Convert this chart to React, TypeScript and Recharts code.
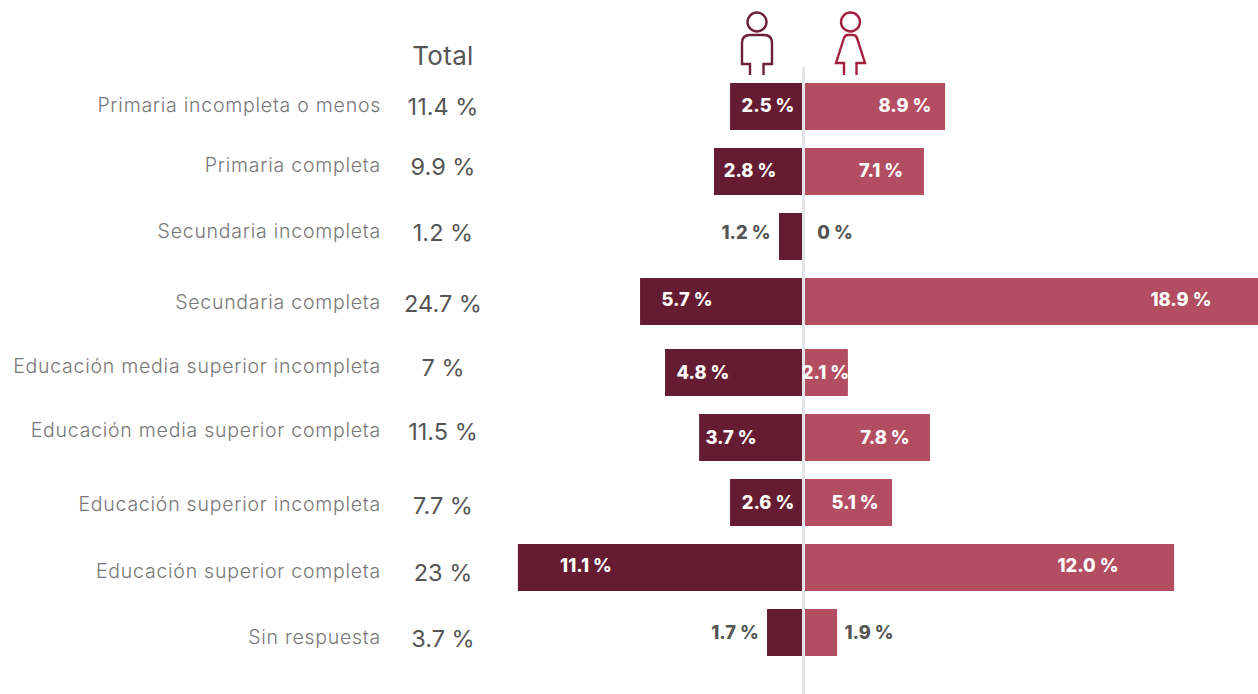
import React from "react";
import { BarChart, Bar, XAxis, YAxis, ReferenceLine, LabelList } from "recharts";

// Row captions and the printed totals
const categories = [
  "Primaria incompleta o menos",
  "Primaria completa",
  "Secundaria incompleta",
  "Secundaria completa",
  "Educación media superior incompleta",
  "Educación media superior completa",
  "Educación superior incompleta",
  "Educación superior completa",
  "Sin respuesta",
];
const totals = ["11.4 %", "9.9 %", "1.2 %", "24.7 %", "7 %", "11.5 %", "7.7 %", "23 %", "3.7 %"];

// Printed labels
const menLabels = ["2.5 %", "2.8 %", "1.2 %", "5.7 %", "4.8 %", "3.7 %", "2.6 %", "11.1 %", "1.7 %"];
const womenLabels = ["8.9 %", "7.1 %", "0 %", "18.9 %", "2.1 %", "7.8 %", "5.1 %", "12.0 %", "1.9 %"];

// Bar lengths as drawn in the picture (axis units)
const menBars = [3.06, 3.73, 1.02, 6.81, 5.77, 4.35, 3.06, 11.9, 1.52];
const womenBars = [5.9, 5.02, 0, 18.94, 1.85, 5.27, 3.69, 15.44, 1.4];

// Hand placement of the labels in the original graphic
const captionNudge = [-1.5, -6.5, -5.5, 0.5, -6.5, -7.5, 1.5, 3.5, 4.5];
const labelNudgeY = [-1.5, -1.5, -4.5, -2.5, -0.5, -0.5, -1, -2.5, -0.5];
const menLabelX = [-35.5, -53.5, -57.5, -116.5, -100.5, -72.5, -35.5, -217.5, -68.5];
const womenLabelX = [101.5, 77.5, 31.5, 377.5, 22, 81.5, 51.5, 284.5, 65.5];

const rows = categories.map((category, i) => ({
  category,
  total: totals[i],
  men: -menBars[i],
  women: womenBars[i],
  row: i,
}));

const FONT = "Inter, sans-serif";
const MEN = "#651c32";
const WOMEN = "#b34e62";
const W = 1258;
const AXIS_W = 500;
const ZERO = 803.5;
const DOMAIN: [number, number] = [-(ZERO - AXIS_W) / 24, (W - ZERO) / 24];
const OUTSIDE = [2, 8];

function Tick({ y, payload, offset }: any) {
  const i = payload.index + offset;
  return (
    <g>
      <text
        x={381}
        y={y + captionNudge[i]}
        textAnchor="end"
        dominantBaseline="central"
        fontFamily={FONT}
        fontWeight={300}
        fontSize={19.5}
        letterSpacing={0.75}
        fill="#787878"
      >
        {categories[i]}
      </text>
      <text
        x={443}
        y={y + captionNudge[i] + 1}
        textAnchor="middle"
        dominantBaseline="central"
        fontFamily={FONT}
        fontWeight={400}
        fontSize={23.5}
        fill="#555555"
      >
        {totals[i]}
      </text>
    </g>
  );
}

function BarText({ x, y, text, dark }: any) {
  return (
    <text
      x={x}
      y={y}
      textAnchor="middle"
      dominantBaseline="central"
      fontFamily={FONT}
      fontWeight={800}
      fontSize={18.3}
      fill={dark ? "#555555" : "#ffffff"}
    >
      {text}
    </text>
  );
}

function MenLabel(props: any) {
  const i = props.value;
  const cy = props.y + props.height / 2 + labelNudgeY[i];
  return (
    <g>
      <BarText x={ZERO + menLabelX[i]} y={cy} text={menLabels[i]} dark={OUTSIDE.includes(i)} />
      {/* a zero-length bar draws no label of its own */}
      {womenBars[i] === 0 ? <BarText x={ZERO + womenLabelX[i]} y={cy} text={womenLabels[i]} dark /> : null}
    </g>
  );
}

function WomenLabel(props: any) {
  const i = props.value;
  return (
    <BarText
      x={ZERO + womenLabelX[i]}
      y={props.y + props.height / 2 + labelNudgeY[i]}
      text={womenLabels[i]}
      dark={OUTSIDE.includes(i)}
    />
  );
}

function Part({ data, offset, top, height, padding }: any) {
  return (
    <div style={{ position: "absolute", left: 0, top }}>
      <BarChart
        width={W}
        height={height}
        data={data}
        layout="vertical"
        stackOffset="sign"
        margin={{ top: 0, right: 0, bottom: 0, left: 0 }}
      >
        <XAxis type="number" domain={DOMAIN} hide allowDataOverflow />
        <YAxis
          type="category"
          dataKey="category"
          width={AXIS_W}
          padding={padding}
          axisLine={false}
          tickLine={false}
          interval={0}
          tick={<Tick offset={offset} />}
        />
        <Bar dataKey="men" stackId="a" fill={MEN} barSize={47} isAnimationActive={false}>
          <LabelList dataKey="row" content={MenLabel} />
        </Bar>
        <Bar dataKey="women" stackId="a" fill={WOMEN} barSize={47} isAnimationActive={false}>
          <LabelList dataKey="row" content={WomenLabel} />
        </Bar>
        <ReferenceLine x={0} stroke="#e3e5e8" strokeWidth={3} />
      </BarChart>
    </div>
  );
}

function Icons() {
  return (
    <svg width={W} height={80} style={{ position: "absolute", left: 0, top: 0 }}>
      <text x={443} y={55} textAnchor="middle" dominantBaseline="central" fontFamily={FONT} fontSize={26} letterSpacing={0.3} fill="#555555">
        Total
      </text>
      <g fill="none" stroke="#6d2039" strokeWidth={2.4}>
        <circle cx={757} cy={22} r={9.5} />
        <path d="M750 75 V64 H742 V43 Q742 35 750 35 H764 Q772 35 772 43 V64 H763.5 V75" />
      </g>
      <g fill="none" stroke="#a3203f" strokeWidth={2.4}>
        <circle cx={850.5} cy={22} r={9.5} />
        <path d="M844 75 V63 H836 L844 38 Q845 35 848 35 H853 Q856 35 857 38 L865 63 H856.5 V75" />
      </g>
    </svg>
  );
}

export default function App() {
  return (
    <div style={{ position: "absolute", left: 0, top: 0, width: W, height: 694, background: "#fff", overflow: "hidden" }}>
      <Icons />
      <Part data={rows.slice(0, 4)} offset={0} top={67} height={273} padding={{ top: 7, bottom: 6 }} />
      <Part data={rows.slice(4)} offset={4} top={340} height={354} padding={{ top: 0, bottom: 29 }} />
    </div>
  );
}
